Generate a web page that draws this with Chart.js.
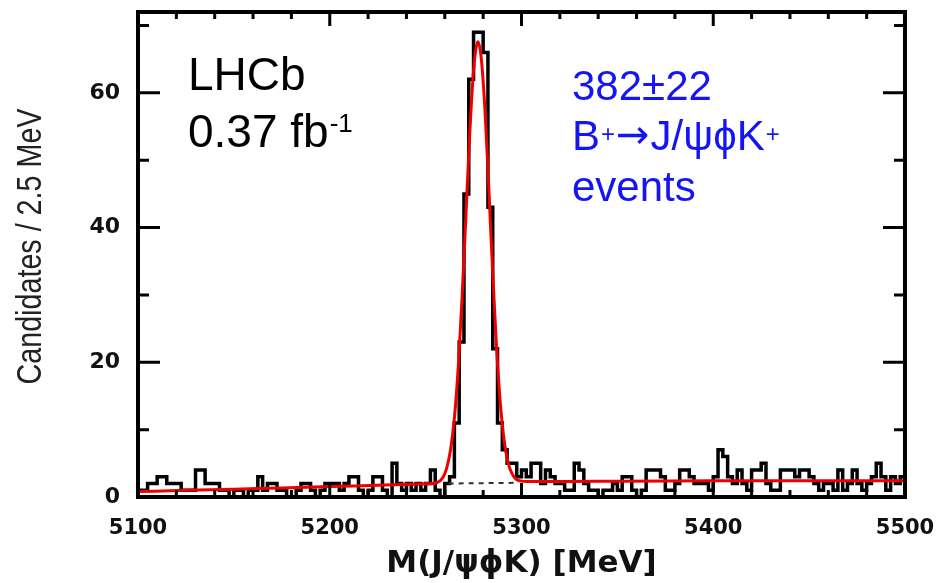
<!DOCTYPE html>
<html lang="en">
<head>
    <meta charset="UTF-8">
    <title>B+ to J/psi phi K+ mass</title>
    <style>
        body { margin: 0; background: #fff; }
        #wrap { width: 941px; height: 583px; }
    </style>
</head>
<body>
    <div id="wrap">
        <canvas id="myChart" width="941" height="583"></canvas>
    </div>

    <script src="https://cdn.jsdelivr.net/npm/chart.js"></script>

    <script>
        // histogram: 2.5 MeV bins from 5100 to 5500
        let massLow = 5100;
        let massHigh = 5500;
        let binWidth = 2.5;
        let counts = [
            1, 1, 2, 2, 3, 3, 2, 2, 2, 1,
            1, 1, 4, 4, 2, 2, 2, 1, 1, 0,
            1, 1, 0, 1, 1, 3, 1, 2, 2, 1,
            1, 0, 0, 1, 2, 2, 1, 0, 1, 2,
            2, 2, 1, 2, 3, 3, 1, 0, 1, 3,
            3, 1, 0, 5, 2, 1, 2, 1, 2, 1,
            2, 4, 1, 0, 2, 3, 11, 23, 45, 62,
            69, 69, 66, 43, 22, 11, 7, 5, 5, 3,
            4, 3, 5, 5, 2, 4, 3, 2, 2, 1,
            1, 5, 4, 2, 1, 1, 0, 1, 1, 2,
            1, 3, 3, 1, 0, 1, 4, 4, 4, 3,
            1, 1, 2, 4, 4, 3, 2, 2, 2, 1,
            3, 7, 6, 3, 2, 4, 2, 1, 4, 4,
            5, 2, 1, 1, 4, 4, 4, 3, 4, 4,
            3, 2, 1, 2, 2, 1, 4, 1, 2, 4,
            2, 1, 2, 3, 5, 3, 1, 3, 2, 3
        ];

        // fitted curve (signal + background)
        let fitMass = [5100, 5125, 5150, 5175, 5200, 5225, 5250, 5256, 5259, 5261,
                       5263, 5265, 5267, 5269, 5271, 5273, 5275, 5277.3, 5279, 5281,
                       5283, 5285, 5287, 5289, 5291, 5293, 5295, 5298, 5303, 5325,
                       5350, 5400, 5450, 5500];
        let fitValue = [0.8, 1.0, 1.15, 1.35, 1.55, 1.75, 1.95, 2.15, 2.9, 4.3,
                        7.0, 11.7, 19.2, 29.5, 41.7, 53.9, 63.3, 67.6, 65.2, 57.2,
                        45.6, 33.1, 22.1, 13.8, 8.3, 5.1, 3.5, 2.5, 2.3, 2.3,
                        2.35, 2.4, 2.4, 2.4];

        // background component under the peak (dashed)
        let bgMass = [5262, 5296];
        let bgValue = [2.0, 2.1];

        let xTicks = [5100, 5200, 5300, 5400, 5500];
        let yTicks = [0, 20, 40, 60];
        let xMinor = 20;
        let yMinor = 10;
        let yMax = 72;

        // one point per lower bin edge, plus the closing edge
        let histPoints = counts.map((c, i) => ({ x: massLow + i * binWidth, y: c }));
        histPoints.push({ x: massHigh, y: counts[counts.length - 1] });

        let fitPoints = fitMass.map((m, i) => ({ x: m, y: fitValue[i] }));
        let bgPoints = bgMass.map((m, i) => ({ x: m, y: bgValue[i] }));

        // ROOT-like frame with inward ticks plus the text labels
        const decorate = {
            id: 'decorate',
            afterDraw(chart) {
                const ctx = chart.ctx;
                const a = chart.chartArea;
                const x = chart.scales.x;
                const y = chart.scales.y;
                ctx.save();
                ctx.strokeStyle = '#000';
                ctx.lineWidth = 3;
                ctx.beginPath();
                for (let v = massLow; v <= massHigh; v += xMinor) {
                    let px = x.getPixelForValue(v);
                    let len = (v % 100 === 0) ? 14 : 7;
                    ctx.moveTo(px, a.bottom); ctx.lineTo(px, a.bottom - len);
                    ctx.moveTo(px, a.top); ctx.lineTo(px, a.top + len);
                }
                for (let v = 0; v <= yMax; v += yMinor) {
                    let py = y.getPixelForValue(v);
                    let len = (v % 20 === 0) ? 22 : 11;
                    ctx.moveTo(a.left, py); ctx.lineTo(a.left + len, py);
                    ctx.moveTo(a.right, py); ctx.lineTo(a.right - len, py);
                }
                ctx.stroke();
                ctx.lineWidth = 4;
                ctx.strokeRect(a.left, a.top, a.width, a.height);

                // y axis title, narrow like the original
                ctx.save();
                ctx.translate(41, (a.top + a.bottom) / 2 - 8);
                ctx.rotate(-Math.PI / 2);
                ctx.scale(0.82, 1);
                ctx.fillStyle = '#222';
                ctx.font = '35px "Liberation Sans", Arial, sans-serif';
                ctx.textAlign = 'center';
                ctx.textBaseline = 'alphabetic';
                ctx.fillText('Candidates / 2.5 MeV', 0, 0);
                ctx.restore();

                // LHCb label
                ctx.fillStyle = '#000';
                ctx.textBaseline = 'alphabetic';
                ctx.font = '46px "Liberation Sans", Arial, sans-serif';
                ctx.fillText('LHCb', 188, 90);
                ctx.fillText('0.37 fb', 188, 147);
                let w = ctx.measureText('0.37 fb').width;
                ctx.font = '26px "Liberation Sans", Arial, sans-serif';
                ctx.fillText('-1', 188 + w + 1, 132);

                // signal yield in blue
                ctx.fillStyle = '#1414f5';
                const big = '42px "Liberation Sans", Arial, sans-serif';
                const sup = '24px "Liberation Sans", Arial, sans-serif';
                const arrow = '40px "DejaVu Sans", sans-serif';
                ctx.font = big;
                ctx.fillText('382\u00b122', 572, 100);
                let cx = 572;
                let parts = [['B', big, 150], ['+', sup, 142], ['\u2192', arrow, 148],
                             ['J/\u03c8\u03d5K', big, 150], ['+', sup, 142]];
                parts.forEach(p => {
                    ctx.font = p[1];
                    ctx.fillText(p[0], cx, p[2]);
                    cx += ctx.measureText(p[0]).width + 1;
                });
                ctx.font = big;
                ctx.fillText('events', 572, 201);
                ctx.restore();
            }
        };

        const ctx = document.getElementById('myChart');

        let tickFont = { family: '"DejaVu Sans", sans-serif', size: 21, weight: 'bold' };

        let chart = new Chart(ctx, {
            type: 'line',
            data: {
                datasets: [
                    {
                        label: 'fit',
                        data: fitPoints,
                        borderColor: 'rgb(238, 0, 0)',
                        borderWidth: 3,
                        pointRadius: 0,
                        cubicInterpolationMode: 'monotone',
                        fill: false
                    },
                    {
                        label: 'background',
                        data: bgPoints,
                        borderColor: '#333',
                        borderWidth: 2,
                        borderDash: [5, 5],
                        pointRadius: 0,
                        fill: false
                    },
                    {
                        label: 'data',
                        data: histPoints,
                        borderColor: '#000',
                        borderWidth: 3.5,
                        pointRadius: 0,
                        stepped: 'before',   // hold each count across its bin
                        fill: false
                    }
                ]
            },
            options: {
                responsive: false,
                animation: false,
                devicePixelRatio: 1,
                layout: { padding: { left: 8, right: 36, top: 12, bottom: 0 } },
                plugins: {
                    legend: { display: false },
                    tooltip: { enabled: false }
                },
                scales: {
                    x: {
                        type: 'linear',
                        min: massLow,
                        max: massHigh,
                        grid: { display: false, drawTicks: false },
                        border: { display: false },
                        afterBuildTicks: s => { s.ticks = xTicks.map(v => ({ value: v })); },
                        afterFit: s => {
                            s.height = 86;
                            s.paddingLeft = 0;
                            s.paddingRight = 0;
                        },
                        ticks: {
                            font: tickFont,
                            color: '#111',
                            padding: 19,
                            maxRotation: 0,
                            callback: v => String(v)
                        },
                        title: {
                            display: true,
                            text: 'M(J/\u03c8\u03d5K) [MeV]',
                            color: '#111',
                            font: { family: '"DejaVu Sans", sans-serif', size: 31, weight: 'bold' },
                            padding: 0
                        }
                    },
                    y: {
                        min: 0,
                        max: yMax,
                        grid: { display: false, drawTicks: false },
                        border: { display: false },
                        afterBuildTicks: s => { s.ticks = yTicks.map(v => ({ value: v })); },
                        afterFit: s => {
                            s.width = 130;
                            s.paddingTop = 0;
                            s.paddingBottom = 0;
                        },
                        ticks: {
                            font: { family: '"DejaVu Sans", sans-serif', size: 22, weight: 'bold' },
                            color: '#111',
                            padding: 18
                        }
                    }
                }
            },
            plugins: [decorate]
        });
    </script>
</body>
</html>
